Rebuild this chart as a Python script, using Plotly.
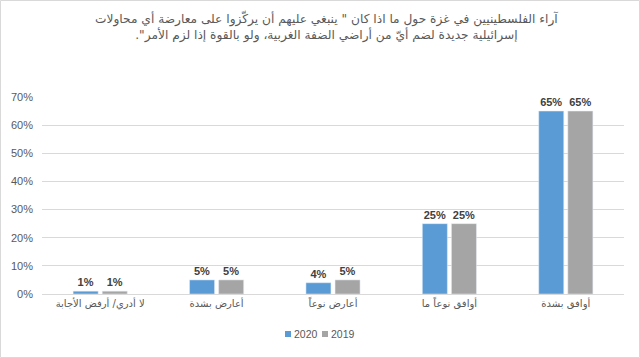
import plotly.graph_objects as go

categories = ["لا أدري/ أرفض الأجابة", "أعارض بشدة", "أعارض نوعاً", "أوافق نوعاً ما", "أوافق بشدة"]
series_names = ["2020", "2019"]
values_2020 = [0.01, 0.05, 0.04, 0.25, 0.65]
values_2019 = [0.01, 0.05, 0.05, 0.25, 0.65]
series_colors = ["#5B9BD5", "#A5A5A5"]
y_ticks = [0, 0.1, 0.2, 0.3, 0.4, 0.5, 0.6, 0.7]
y_tick_labels = ["0%", "10%", "20%", "30%", "40%", "50%", "60%", "70%"]
title_lines = [
    'آراء الفلسطينيين في غزة حول ما اذا كان " ينبغي عليهم أن يركّزوا على معارضة أي محاولات',
    'إسرائيلية جديدة لضم أيّ من أراضي الضفة الغربية، ولو بالقوة إذا لزم الأمر".',
]

W, H = 640, 358
L, R, T, B = 42, 16, 97, 64
PW, PH = W - L - R, H - T - B

def px_x(px):
    return (px - L) / PW

def px_y(py):
    return (H - B - py) / PH

title_text = "<br>".join("\u202b" + s + "\u202c" for s in title_lines)
label_font = dict(family="Liberation Sans, Arial, sans-serif", size=11, color="#404040")

fig = go.Figure()
for name, vals, col in zip(series_names, [values_2020, values_2019], series_colors):
    fig.add_trace(go.Bar(
        name=name, x=categories, y=vals,
        marker=dict(color=col),
        text=[f"<b>{round(v*100)}%</b>" for v in vals],
        textposition="outside", textfont=label_font, cliponaxis=False,
        showlegend=False,
    ))

# legend drawn manually (square swatch + label)
shapes = [dict(type="rect", xref="paper", yref="paper", x0=px_x(0.5), x1=px_x(639.5),
               y0=px_y(357.5), y1=px_y(0.5), line=dict(color="#D9D9D9", width=1))]
annotations = []
legend_x = [285, 322]
for lx, name, col in zip(legend_x, series_names, series_colors):
    shapes.append(dict(type="rect", xref="paper", yref="paper",
                       x0=px_x(lx), x1=px_x(lx + 6), y0=px_y(337), y1=px_y(331),
                       fillcolor=col, line=dict(width=0)))
    annotations.append(dict(xref="paper", yref="paper", x=px_x(lx + 7), y=px_y(334),
                            text=name, showarrow=False, xanchor="left", yanchor="middle",
                            font=dict(size=10.5, color="#595959",
                                      family="Liberation Sans, Arial, sans-serif")))

fig.update_layout(
    width=W, height=H,
    barmode="group", bargap=0.5, bargroupgap=0.14,
    plot_bgcolor="white", paper_bgcolor="white",
    margin=dict(l=L, r=R, t=T, b=B),
    font=dict(family="DejaVu Sans, sans-serif", color="#595959"),
    title=dict(text=title_text, x=0.51, xanchor="center", y=0.936, yanchor="middle",
               font=dict(size=12.2, color="#595959", family="DejaVu Sans, sans-serif")),
    showlegend=False,
    shapes=shapes,
    annotations=annotations,
)
fig.update_xaxes(showgrid=False, showline=True, linecolor="#D9D9D9", ticks="",
                 automargin=False,
                 tickfont=dict(size=10, color="#595959", family="DejaVu Sans, sans-serif"))
fig.update_yaxes(range=[0, 0.7], tickvals=y_ticks, ticktext=y_tick_labels,
                 showgrid=True, gridcolor="#D9D9D9", zeroline=False, showline=False,
                 automargin=False, ticklabelstandoff=8,
                 tickfont=dict(size=11, color="#595959", family="Liberation Sans, Arial, sans-serif"))

fig.write_html("out.html", config={"displayModeBar": False},
               post_script="document.body.style.margin='0';document.body.style.overflow='hidden';")
